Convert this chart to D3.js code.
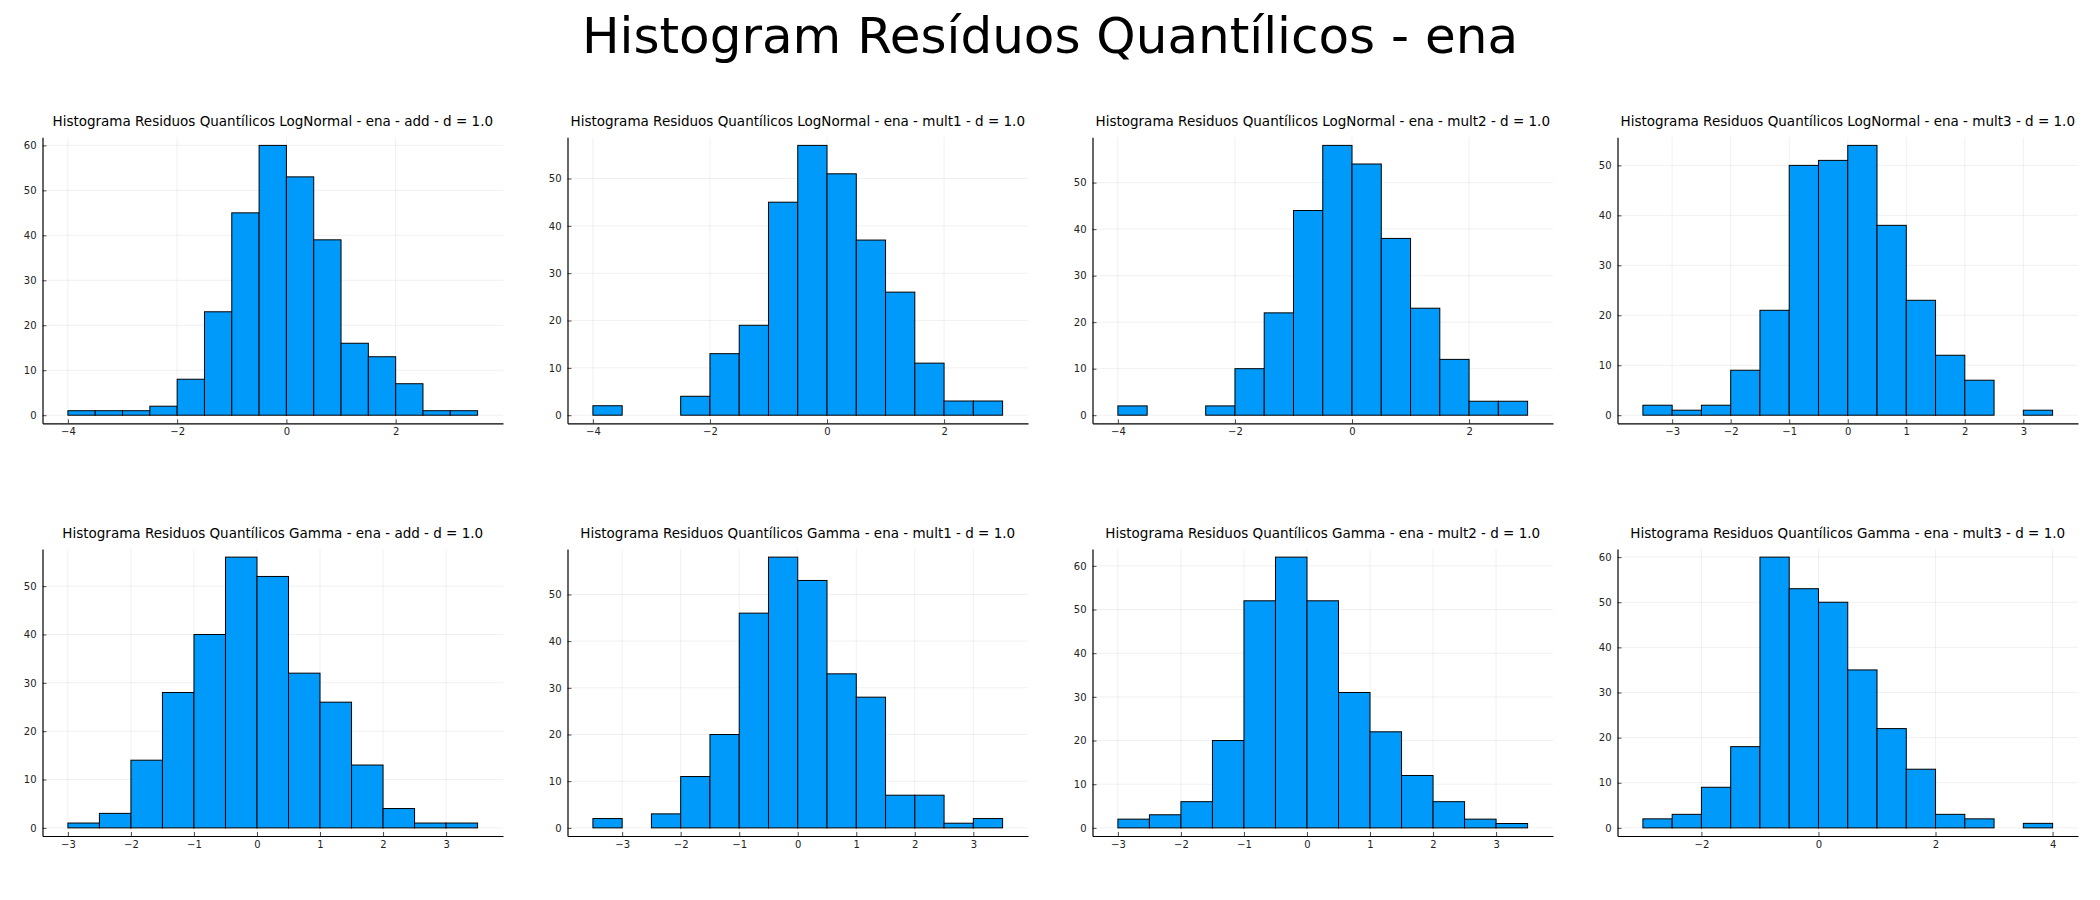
<!DOCTYPE html>
<html>
<head>
<meta charset="utf-8">
<script src="https://cdn.jsdelivr.net/npm/d3@7"></script>
<style>
    body { margin: 0; background: #fff; }
    svg { display: block; font-family: "DejaVu Sans", sans-serif; }
</style>
</head>
<body>
<div id="draw"></div>
<script>
"use strict";

// figure title and panel titles (row by row)
var mainTitle = 'Histogram Resíduos Quantílicos - ena';
var panelTitles = [
    'Histograma Residuos Quantílicos LogNormal - ena - add - d = 1.0',
    'Histograma Residuos Quantílicos LogNormal - ena - mult1 - d = 1.0',
    'Histograma Residuos Quantílicos LogNormal - ena - mult2 - d = 1.0',
    'Histograma Residuos Quantílicos LogNormal - ena - mult3 - d = 1.0',
    'Histograma Residuos Quantílicos Gamma - ena - add - d = 1.0',
    'Histograma Residuos Quantílicos Gamma - ena - mult1 - d = 1.0',
    'Histograma Residuos Quantílicos Gamma - ena - mult2 - d = 1.0',
    'Histograma Residuos Quantílicos Gamma - ena - mult3 - d = 1.0'
];

// left edge of the first bin, all bins are 0.5 wide
var binStart = [-4, -4, -4, -3.5, -3, -3.5, -3, -3];
var binWidth = 0.5;

// counts per bin
var logNormalAdd   = [1, 1, 1, 2, 8, 23, 45, 60, 53, 39, 16, 13, 7, 1, 1];
var logNormalMult1 = [2, 0, 0, 4, 13, 19, 45, 57, 51, 37, 26, 11, 3, 3];
var logNormalMult2 = [2, 0, 0, 2, 10, 22, 44, 58, 54, 38, 23, 12, 3, 3];
var logNormalMult3 = [2, 1, 2, 9, 21, 50, 51, 54, 38, 23, 12, 7, 0, 1];
var gammaAdd       = [1, 3, 14, 28, 40, 56, 52, 32, 26, 13, 4, 1, 1];
var gammaMult1     = [2, 0, 3, 11, 20, 46, 58, 53, 33, 28, 7, 7, 1, 2];
var gammaMult2     = [2, 3, 6, 20, 52, 62, 52, 31, 22, 12, 6, 2, 1];
var gammaMult3     = [2, 3, 9, 18, 60, 53, 50, 35, 22, 13, 3, 2, 0, 1];

var panelCounts = [logNormalAdd, logNormalMult1, logNormalMult2, logNormalMult3,
                   gammaAdd, gammaMult1, gammaMult2, gammaMult3];

// tick values
var xTicks = [
    [-4, -2, 0, 2], [-4, -2, 0, 2], [-4, -2, 0, 2], [-3, -2, -1, 0, 1, 2, 3],
    [-3, -2, -1, 0, 1, 2, 3], [-3, -2, -1, 0, 1, 2, 3], [-3, -2, -1, 0, 1, 2, 3], [-2, 0, 2, 4]
];
var yTicks = [
    [0, 10, 20, 30, 40, 50, 60], [0, 10, 20, 30, 40, 50], [0, 10, 20, 30, 40, 50], [0, 10, 20, 30, 40, 50],
    [0, 10, 20, 30, 40, 50], [0, 10, 20, 30, 40, 50], [0, 10, 20, 30, 40, 50, 60], [0, 10, 20, 30, 40, 50, 60]
];

var width = 2100,
    height = 900,
    cellW = 525,
    rowTop = [137.3, 549],
    rowBottom = [423.3, 836],
    barColor = '#009AFA';

var svg = d3.select('#draw').append('svg')
    .attr('width', width)
    .attr('height', height);

svg.append('text')
    .attr('x', width / 2)
    .attr('y', 53)
    .attr('text-anchor', 'middle')
    .attr('font-size', 50)
    .attr('fill', '#000')
    .text(mainTitle);

panelCounts.forEach(function (counts, p) {
    var col = p % 4,
        row = Math.floor(p / 4),
        left = col * cellW + 42.5,
        right = col * cellW + 503,
        top = rowTop[row],
        bottom = rowBottom[row];

    // bins from the first edge
    var bins = counts.map(function (c, i) {
        return { x0: binStart[p] + i * binWidth, x1: binStart[p] + (i + 1) * binWidth, n: c };
    });
    var lo = bins[0].x0,
        hi = bins[bins.length - 1].x1,
        pad = (hi - lo) * 0.062,
        ymax = d3.max(counts);

    var x = d3.scaleLinear().domain([lo - pad, hi + pad]).range([left, right]);
    var y = d3.scaleLinear().domain([-0.03 * ymax, 1.03 * ymax]).range([bottom, top]);

    var g = svg.append('g');

    // grid
    g.append('g').selectAll('line').data(xTicks[p]).join('line')
        .attr('x1', function (d) { return x(d); })
        .attr('x2', function (d) { return x(d); })
        .attr('y1', top).attr('y2', bottom)
        .attr('stroke', '#000').attr('stroke-opacity', 0.08).attr('stroke-width', 0.8);
    g.append('g').selectAll('line').data(yTicks[p]).join('line')
        .attr('x1', left).attr('x2', right)
        .attr('y1', function (d) { return y(d); })
        .attr('y2', function (d) { return y(d); })
        .attr('stroke', '#000').attr('stroke-opacity', 0.08).attr('stroke-width', 0.8);

    // bars
    g.append('g').selectAll('rect').data(bins).join('rect')
        .attr('x', function (d) { return x(d.x0); })
        .attr('width', function (d) { return x(d.x1) - x(d.x0); })
        .attr('y', function (d) { return y(d.n); })
        .attr('height', function (d) { return y(0) - y(d.n); })
        .attr('fill', barColor)
        .attr('stroke', '#000')
        .attr('stroke-width', 1);

    // axes, ticks point inward
    var xAxis = d3.axisBottom(x).tickValues(xTicks[p]).tickSizeInner(-4).tickSizeOuter(0).tickPadding(5);
    var yAxis = d3.axisLeft(y).tickValues(yTicks[p]).tickSizeInner(-4).tickSizeOuter(0).tickPadding(6);

    var gx = g.append('g').attr('transform', 'translate(0,' + bottom + ')').call(xAxis);
    var gy = g.append('g').attr('transform', 'translate(' + left + ',0)').call(yAxis);
    [gx, gy].forEach(function (a) {
        a.attr('font-family', '"DejaVu Sans", sans-serif').attr('font-size', 10);
        a.select('.domain').attr('stroke', '#000').attr('stroke-width', 1.2);
        a.selectAll('.tick line').attr('stroke', '#000').attr('stroke-opacity', 0.7);
        a.selectAll('.tick text').attr('fill', '#222');
    });

    // panel title
    g.append('text')
        .attr('x', (left + right) / 2)
        .attr('y', top - 11)
        .attr('text-anchor', 'middle')
        .attr('font-size', 13.5)
        .attr('fill', '#000')
        .text(panelTitles[p]);
});
</script>
</body>
</html>
